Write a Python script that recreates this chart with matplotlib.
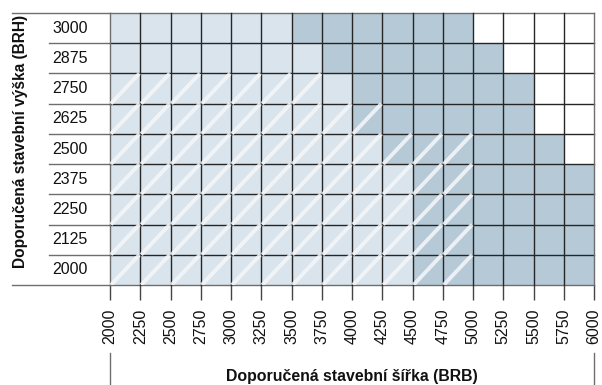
import matplotlib
matplotlib.use("Agg")
from matplotlib import pyplot as plt
from matplotlib.patches import Rectangle

plt.rcParams['font.family'] = ['Liberation Sans', 'DejaVu Sans']

# doporucene stavebni sirky (hrany sloupcu) a vysky (radky odspodu)
sirky = [2000, 2250, 2500, 2750, 3000, 3250, 3500, 3750, 4000,
         4250, 4500, 4750, 5000, 5250, 5500, 5750, 6000]
vysky = [2000, 2125, 2250, 2375, 2500, 2625, 2750, 2875, 3000]

# pro kazdou vysku: do jake sirky je svetla zona, tmava zona a srafovani
svetla_do = [4500, 4500, 4500, 4500, 4250, 4000, 4000, 3750, 3500]
tmava_do = [6000, 6000, 6000, 6000, 5750, 5500, 5500, 5250, 5000]
srafa_do = [5000, 5000, 5000, 5000, 5000, 4250, 3750, 2000, 2000]

svetla = '#dae4ec'
tmava = '#b5c9d6'
cerna = '#262626'
seda = '#6e6e6e'

W, H = 602, 385
fig = plt.figure(figsize=(W / 100, H / 100), dpi=100)
left, right, top, bottom = 110, 594, 13, 285
ax = fig.add_axes([left / W, 1 - bottom / H, (right - left) / W, (bottom - top) / H])

ncol = len(sirky) - 1
nrow = len(vysky)
ax.set_xlim(0, ncol)
ax.set_ylim(0, nrow)
for s in ax.spines.values():
    s.set_visible(False)

bunka = (right - left) / ncol  # px na bunku

for j in range(nrow):
    for i in range(ncol):
        konec = sirky[i + 1]
        if konec <= svetla_do[j]:
            barva = svetla
        elif konec <= tmava_do[j]:
            barva = tmava
        else:
            barva = 'white'
        ax.add_patch(Rectangle((i, j), 1, 1, facecolor=barva, edgecolor='none', zorder=1))

# mrizka
for j in range(nrow + 1):
    okraj = j == 0 or j == nrow
    x0 = -(left - 12) / bunka if okraj else -(left - 49) / bunka
    ax.plot([x0, 0], [j, j], color=seda, lw=1.0, clip_on=False, zorder=2)
    ax.plot([0, ncol], [j, j], color=seda if okraj else cerna, lw=1.0, clip_on=False, zorder=2)
for i in range(ncol + 1):
    okraj = i == 0 or i == ncol
    ax.plot([i, i], [0, nrow], color=seda if okraj else cerna, lw=1.0, clip_on=False, zorder=2)

# srafovani
for j in range(nrow):
    for i in range(ncol):
        if sirky[i + 1] <= srafa_do[j]:
            ax.plot([i + 0.03, i + 0.97], [j, j + 1], color='#f6f8fa', alpha=0.85, lw=2.8,
                    solid_capstyle='butt', zorder=3)

# popisky radku
for j, v in enumerate(vysky):
    ax.text(-(left - 52) / bunka, j + 0.5, str(v), ha='left', va='center', fontsize=11.5,
            color='#111111', clip_on=False)

ax.set_xticks(range(ncol + 1))
ax.set_xticklabels([str(s) for s in sirky], rotation=90, fontsize=11.5, color='#111111')
ax.tick_params(axis='x', length=11, width=1.0, color='#444444', pad=6, direction='out')
ax.set_yticks([])

# zavorka pod osou x
for px in (left, right):
    fig.add_artist(plt.Line2D([px / W, px / W], [0, 1 - 353 / H], color=seda, lw=1.0))

fig.text((left + right) / 2 / W, 1 - 377 / H, 'Doporučená stavební šířka (BRB)',
         ha='center', va='center', fontsize=11.4, fontweight='bold', color='#111111')
fig.text(21 / W, 1 - 141 / H, 'Doporučená stavební výška (BRH)', rotation=90,
         ha='center', va='center', fontsize=11.2, fontweight='bold', color='#111111')

fig.savefig('out.png', dpi=100)
